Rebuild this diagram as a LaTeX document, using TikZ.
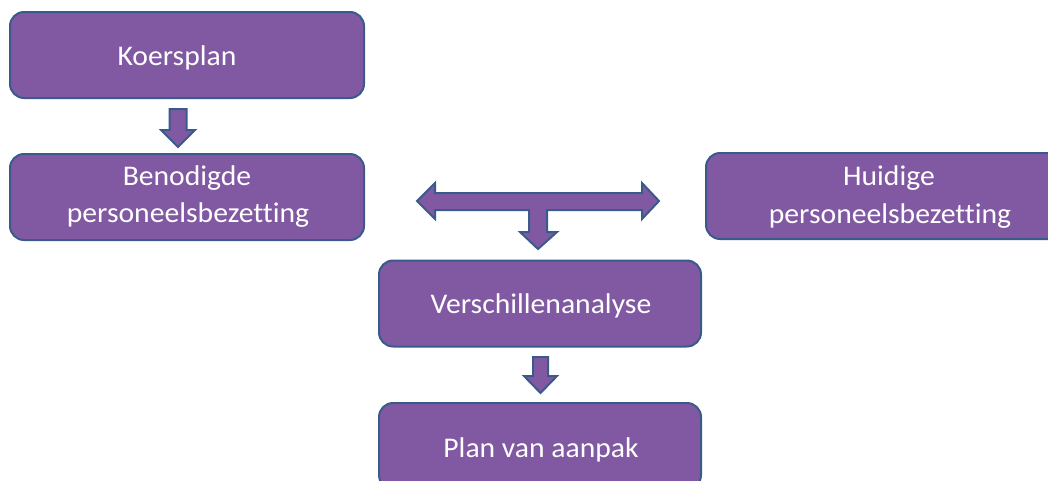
\documentclass[tikz,border=0pt]{standalone}
\usepackage{fontspec}
\setmainfont[Ligatures=NoCommon]{Carlito}
\usepackage{graphicx}
\definecolor{boxfill}{HTML}{8159A2}
\definecolor{boxline}{HTML}{3A5A8C}
\tikzset{
  box/.style={draw=boxline, fill=boxfill, line width=2pt, rounded corners=14pt, inner sep=0pt},
  blockarrow/.style={draw=boxline, fill=boxfill, line width=2pt, line join=miter},
  lbl/.style={text=white, anchor=base, inner sep=0pt, font=\fontsize{28.5}{34}\selectfont}
}
\newcommand{\wtxt}[1]{\scalebox{1.04}[1]{#1}}
\begin{document}
\begin{tikzpicture}[x=1pt,y=-1pt]
\useasboundingbox (0,0) rectangle (1048,480);
\clip (0,0) rectangle (1048,480);
% boxes
\node[box, minimum width=354pt, minimum height=86pt] (koers) at (187,55) {};
\node[box, minimum width=354pt, minimum height=86pt] (beno) at (187,197) {};
\node[box, minimum width=368pt, minimum height=86pt] (huid) at (890,196) {};
\node[box, minimum width=322pt, minimum height=86pt] (versch) at (540,303.5) {};
\node[box, minimum width=322pt, minimum height=86pt] (plan) at (540,446) {};
% labels
\node[lbl] (tkoers) at (177,65) {\wtxt{Koersplan}};
\node[lbl] (tbeno1) at (187,185) {\wtxt{Benodigde}};
\node[lbl] (tbeno2) at (188,222) {\wtxt{personeelsbezetting}};
\node[lbl] (thuid1) at (889,185) {\wtxt{Huidige}};
\node[lbl] (thuid2) at (890,223) {\wtxt{personeelsbezetting}};
\node[lbl] (tversch) at (541,313) {\wtxt{Verschillenanalyse}};
\node[lbl] (tplan) at (541,457) {\wtxt{Plan van aanpak}};
% arrows
\draw[blockarrow] (169.5,109) -- (186.5,109) -- (186.5,130) -- (195,130) -- (178,147) -- (161,130) -- (169.5,130) -- cycle;
\draw[blockarrow] (417,201) -- (435,183) -- (435,193) -- (642,193) -- (642,183) -- (659,201) -- (642,219) -- (642,210)
  -- (547,210) -- (547,232) -- (557,232) -- (538,249) -- (520,232) -- (529,232) -- (529,210) -- (435,210) -- (435,219) -- cycle;
\draw[blockarrow] (533,357) -- (548,357) -- (548,376) -- (557,376) -- (540.5,393) -- (524,376) -- (533,376) -- cycle;
\end{tikzpicture}
\end{document}
